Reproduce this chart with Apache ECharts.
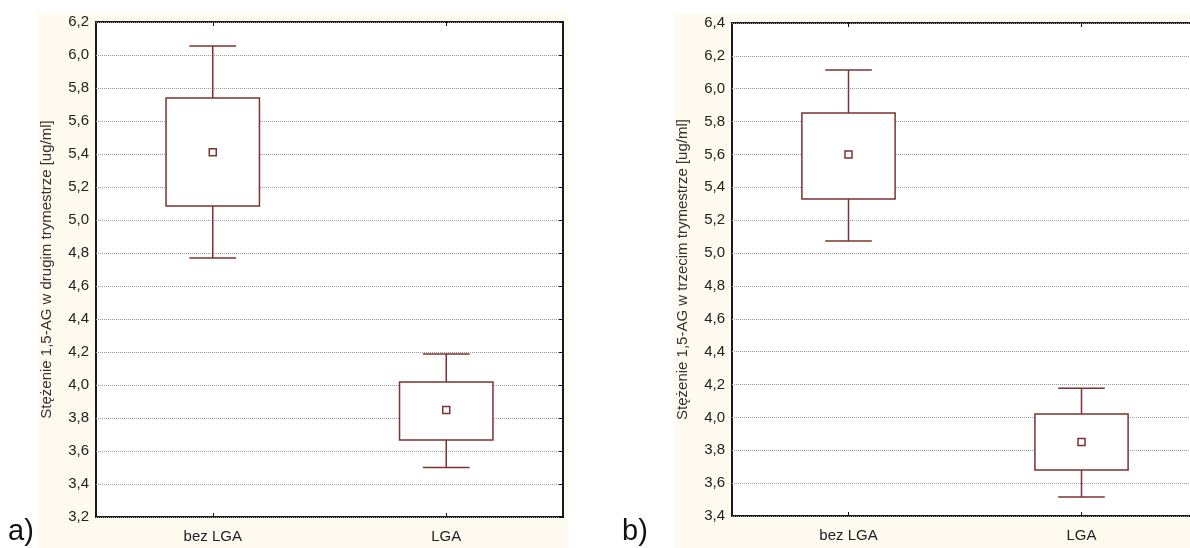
<!DOCTYPE html>
<html>
<head>
<meta charset="utf-8">
<script src="https://cdn.jsdelivr.net/npm/echarts@6/dist/echarts.min.js"></script>
<style>
html,body{margin:0;padding:0;background:#fff;}
#main{width:1190px;height:548px;}
</style>
</head>
<body>
<div id="main"></div>
<script>
// kategorie
var categories = ['bez LGA', 'LGA'];
// a) drugi trymestr: dolny wąs, dół pudełka, średnia, góra pudełka, górny wąs
var lowA  = [4.77, 3.50];
var boxLoA = [5.085, 3.667];
var meanA = [5.41, 3.848];
var boxHiA = [5.74, 4.018];
var highA = [6.054, 4.188];
// b) trzeci trymestr
var lowB  = [5.073, 3.515];
var boxLoB = [5.329, 3.68];
var meanB = [5.60, 3.85];
var boxHiB = [5.852, 4.02];
var highB = [6.114, 4.178];

var yTitleA = 'Stężenie 1,5-AG w drugim trymestrze [ug/ml]';
var yTitleB = 'Stężenie 1,5-AG w trzecim trymestrze [ug/ml]';

var boxColor = '#7f3131';

function buildData(lo, q1, m, q3, hi){
    var out = [];
    for (var i = 0; i < categories.length; i++) {
        out.push([i, lo[i], q1[i], m[i], q3[i], hi[i]]);
    }
    return out;
}

function renderBox(params, api){
    var x = api.value(0);
    var band = api.size([1, 0])[0];
    var boxW = band * 0.4, capW = band * 0.2;
    var pLo = api.coord([x, api.value(1)]);
    var pQ1 = api.coord([x, api.value(2)]);
    var pM  = api.coord([x, api.value(3)]);
    var pQ3 = api.coord([x, api.value(4)]);
    var pHi = api.coord([x, api.value(5)]);
    var cx = pM[0];
    var st = {stroke: boxColor, lineWidth: 1.5, fill: null};
    return {
        type: 'group',
        children: [
            {type: 'line', shape: {x1: cx, y1: pHi[1], x2: cx, y2: pQ3[1]}, style: st},
            {type: 'line', shape: {x1: cx - capW/2, y1: pHi[1], x2: cx + capW/2, y2: pHi[1]}, style: st},
            {type: 'line', shape: {x1: cx, y1: pQ1[1], x2: cx, y2: pLo[1]}, style: st},
            {type: 'line', shape: {x1: cx - capW/2, y1: pLo[1], x2: cx + capW/2, y2: pLo[1]}, style: st},
            {type: 'rect', shape: {x: cx - boxW/2, y: pQ3[1], width: boxW, height: pQ1[1] - pQ3[1]},
                style: {stroke: boxColor, lineWidth: 1.5, fill: '#fff'}},
            {type: 'rect', shape: {x: cx - 3.5, y: pM[1] - 3.5, width: 7, height: 7},
                style: {stroke: boxColor, lineWidth: 1.5, fill: '#fff'}}
        ]
    };
}

function commaFmt(v){
    return v.toFixed(1).replace('.', ',');
}

var chart = echarts.init(document.getElementById('main'));
var font = 'Liberation Sans, Arial, sans-serif';

function xAxes(gi){
    return [{
        type: 'category', gridIndex: gi, data: categories, position: 'bottom',
        axisLine: {show: false},
        axisTick: {show: true, inside: true, alignWithLabel: true, length: 4, lineStyle: {color: '#111'}},
        axisLabel: {color: '#222', fontSize: 15, fontFamily: font, margin: 12},
        splitLine: {show: false}
    }, {
        type: 'category', gridIndex: gi, data: categories, position: 'top',
        axisLine: {show: false},
        axisTick: {show: true, inside: true, alignWithLabel: true, length: 4, lineStyle: {color: '#111'}},
        axisLabel: {show: false},
        splitLine: {show: false}
    }];
}

function yAxes(gi, mn, mx, title){
    return [{
        type: 'value', gridIndex: gi, min: mn, max: mx, interval: 0.2, position: 'left',
        name: title, nameLocation: 'middle', nameGap: 42, nameRotate: 90,
        nameTextStyle: {color: '#333', fontSize: 15, fontFamily: font},
        axisLine: {show: false},
        axisTick: {show: false},
        axisLabel: {color: '#222', fontSize: 15, fontFamily: font, margin: 7, formatter: commaFmt},
        splitLine: {show: true, lineStyle: {color: '#9a9a9a', type: 'dotted', width: 1}}
    }, {
        type: 'value', gridIndex: gi, min: mn, max: mx, interval: 0.2, position: 'right',
        axisLine: {show: false},
        axisTick: {show: true, inside: true, length: 4, lineStyle: {color: '#111'}},
        axisLabel: {show: false},
        splitLine: {show: false}
    }];
}

var option = {
    animation: false,
    backgroundColor: '#fff',
    graphic: [
        {type: 'rect', shape: {x: 38, y: 13, width: 530, height: 540}, style: {fill: '#fffaef'}, z: -10},
        {type: 'rect', shape: {x: 674, y: 14, width: 530, height: 540}, style: {fill: '#fffaef'}, z: -10},
        {type: 'text', left: 8, top: 517, style: {text: 'a)', font: '29px ' + font, fill: '#111'}},
        {type: 'text', left: 622, top: 517, style: {text: 'b)', font: '29px ' + font, fill: '#111'}}
    ],
    grid: [
        {left: 96, top: 22, width: 467, height: 495, outerBoundsMode: 'none', show: true, backgroundColor: '#fff', borderColor: '#1a1a1a', borderWidth: 2},
        {left: 732, top: 23, width: 466, height: 493, outerBoundsMode: 'none', show: true, backgroundColor: '#fff', borderColor: '#1a1a1a', borderWidth: 2}
    ],
    xAxis: xAxes(0).concat(xAxes(1)),
    yAxis: yAxes(0, 3.2, 6.2, yTitleA).concat(yAxes(1, 3.4, 6.4, yTitleB)),
    series: [{
        type: 'custom', name: 'a', xAxisIndex: 0, yAxisIndex: 0,
        renderItem: renderBox,
        encode: {x: 0, y: [1, 2, 3, 4, 5]},
        data: buildData(lowA, boxLoA, meanA, boxHiA, highA)
    }, {
        type: 'custom', name: 'b', xAxisIndex: 2, yAxisIndex: 2,
        renderItem: renderBox,
        encode: {x: 0, y: [1, 2, 3, 4, 5]},
        data: buildData(lowB, boxLoB, meanB, boxHiB, highB)
    }]
};
chart.setOption(option);
</script>
</body>
</html>
